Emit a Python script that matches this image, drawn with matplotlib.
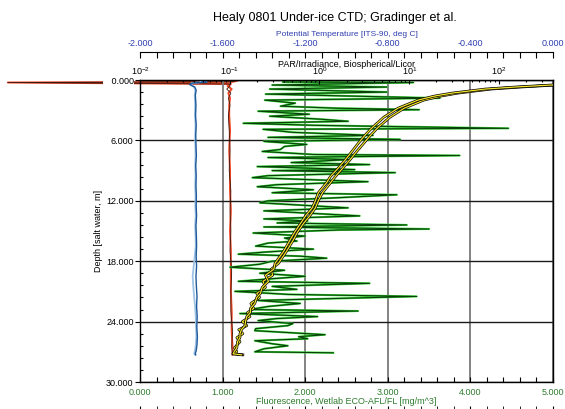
import numpy as np
import matplotlib
matplotlib.use('Agg')
import matplotlib.pyplot as plt
import matplotlib.ticker as mticker
import matplotlib.patheffects as pe

plt.rcParams['font.family'] = ['Liberation Sans', 'DejaVu Sans']
plt.rcParams['mathtext.fontset'] = 'custom'
plt.rcParams['mathtext.rm'] = 'Liberation Sans'
plt.rcParams['mathtext.it'] = 'Liberation Sans'

# ---------------- text / ticks ----------------
title = "Healy 0801 Under-ice CTD; Gradinger et al."
depth_ticks = [0, 6, 12, 18, 24, 30]
depth_labels = ['   0.000', '6.000', '12.000', '18.000', '24.000', '30.000']
fl_ticks = [0, 1, 2, 3, 4, 5]
temp_ticks = [-2.0, -1.6, -1.2, -0.8, -0.4, 0.0]
par_ticks = [0.01, 0.1, 1, 10, 100]

# ---------------- data ----------------
fl_depth = [0.20, 0.25, 0.50, 0.70, 0.90, 1.20, 1.40, 1.80, 2.00, 2.30,
            2.60, 2.80, 2.95, 3.10, 3.40, 3.60, 3.90, 4.10, 4.30, 4.50,
            4.80, 4.90, 5.20, 5.50, 5.70, 5.90, 6.10, 6.40, 6.60, 6.90,
            7.10, 7.40, 7.50, 7.70, 7.90, 8.20, 8.40, 8.60, 8.90, 9.00,
            9.20, 9.50, 9.70, 10.10, 10.40, 10.60, 10.90, 11.20, 11.40, 11.70,
            12.00, 12.20, 12.50, 12.70, 13.00, 13.30, 13.50, 13.80, 14.00, 14.20,
            14.40, 14.60, 14.80, 14.90, 15.20, 15.50, 15.70, 16.00, 16.20, 16.50,
            16.80, 17.10, 17.30, 17.50, 17.70, 18.00, 18.30, 18.60, 18.90, 19.20,
            19.50, 19.80, 20.00, 20.20, 20.50, 20.80, 21.00, 21.30, 21.50, 21.90,
            22.20, 22.50, 22.80, 22.95, 23.20, 23.50, 23.70, 23.90, 24.20, 24.40,
            24.70, 24.90, 25.30, 25.50, 25.70, 25.90, 26.20, 26.40, 26.70, 27.00,
            27.10]
fl_val = [1.73, 3.31, 1.60, 2.99, 1.57, 2.99, 1.52, 3.63, 1.51, 1.88,
          1.70, 2.38, 3.38, 1.43, 2.05, 1.57, 2.20, 2.52, 1.25, 2.10,
          4.46, 1.49, 1.85, 2.82, 1.55, 3.15, 1.50, 2.02, 1.75, 1.70,
          1.48, 2.10, 3.87, 1.55, 2.54, 1.83, 2.78, 1.42, 2.60, 1.60,
          3.09, 1.55, 1.36, 2.76, 1.65, 1.42, 2.10, 1.60, 3.11, 2.38,
          1.55, 1.45, 2.10, 2.52, 1.50, 2.20, 2.66, 1.50, 2.03, 1.66,
          3.23, 1.50, 3.50, 2.40, 1.37, 2.00, 1.75, 1.90, 1.55, 1.40,
          2.10, 1.50, 1.19, 1.94, 2.26, 1.60, 1.45, 1.09, 1.75, 1.45,
          2.00, 1.50, 1.19, 2.78, 1.60, 1.90, 1.15, 1.80, 3.35, 1.43,
          1.94, 1.55, 1.33, 2.64, 1.21, 2.15, 1.65, 1.43, 1.85, 1.79,
          1.40, 1.39, 2.24, 1.92, 2.03, 1.39, 1.60, 1.79, 1.50, 1.39,
          2.34]

par_depth = [0.3, 0.5, 0.7, 0.9, 1.3, 1.6, 2.0, 2.8, 3.7, 4.7,
             5.5, 6.3, 7.1, 7.9, 8.8, 9.6, 10.2, 11.2, 12.0, 12.7,
             13.5, 14.2, 15.1, 15.9, 17.0, 18.2, 18.8, 19.4, 20.0, 20.6,
             21.2, 21.6, 22.2, 22.7, 23.1, 23.5, 24.0, 24.4, 24.8, 25.2,
             25.6, 26.0, 26.6, 27.0, 27.2, 27.3]
par_down = [700, 380, 150, 70, 30, 19, 12.5, 7.5, 5.2, 3.9,
            3.2, 2.7, 2.3, 1.95, 1.6, 1.32, 1.2, 0.97, 0.90, 0.83,
            0.70, 0.62, 0.53, 0.47, 0.40, 0.32, 0.31, 0.25, 0.27, 0.23,
            0.22, 0.20, 0.19, 0.17, 0.17, 0.155, 0.15, 0.148, 0.135, 0.13,
            0.13, 0.122, 0.12, 0.112, 0.109, 0.135]
par_up = [700, 430, 175, 82, 35, 22.5, 14.5, 8.8, 6.1, 4.5,
          3.7, 3.1, 2.6, 2.2, 1.8, 1.5, 1.33, 1.08, 0.97, 0.90,
          0.78, 0.67, 0.57, 0.51, 0.43, 0.35, 0.29, 0.30, 0.235, 0.25,
          0.20, 0.215, 0.172, 0.185, 0.158, 0.168, 0.138, 0.155, 0.126, 0.14,
          0.12, 0.13, 0.113, 0.12, 0.108, 0.14]

temp_depth = [0.10, 0.20, 0.30, 0.45, 0.70, 1.0, 1.5, 2.5, 3.5, 4.5,
              5.5, 6.5, 7.5, 8.5, 9.5, 10.5, 11.5, 12.5, 13.5, 14.5,
              15.5, 16.5, 17.5, 18.5, 19.5, 20.5, 21.5, 22.5, 23.5, 24.5,
              25.5, 26.3, 26.9, 27.2, 27.3]
temp_dark = [-1.700, -1.675, -1.745, -1.760, -1.735, -1.728, -1.732, -1.729, -1.731, -1.728,
             -1.730, -1.729, -1.727, -1.730, -1.728, -1.729, -1.727, -1.728, -1.726, -1.729,
             -1.727, -1.726, -1.728, -1.726, -1.729, -1.727, -1.724, -1.726, -1.723, -1.725,
             -1.722, -1.724, -1.728, -1.733, -1.730]
temp_light = [-1.705, -1.690, -1.750, -1.752, -1.738, -1.732, -1.735, -1.733, -1.734, -1.731,
              -1.733, -1.732, -1.731, -1.733, -1.731, -1.733, -1.731, -1.732, -1.730, -1.733,
              -1.731, -1.730, -1.735, -1.740, -1.745, -1.742, -1.738, -1.733, -1.730, -1.729,
              -1.727, -1.730, -1.734, -1.737, -1.733]

sal_depth = [0.10, 0.18, 0.25, 0.40, 0.6, 0.9, 1.3, 1.8, 2.5, 3.5,
             5.0, 7.0, 9.0, 11.0, 13.0, 15.0, 17.0, 19.0, 21.0, 23.0,
             25.0, 26.5, 27.3]
sal_red = [31.17, 31.12, 28.40, 31.10, 31.06, 31.11, 31.07, 31.09, 31.08, 31.08,
           31.09, 31.08, 31.09, 31.09, 31.10, 31.09, 31.10, 31.10, 31.10, 31.11,
           31.11, 31.12, 31.12]
sal_black = [31.15, 31.10, 28.40, 31.08, 31.09, 31.05, 31.10, 31.07, 31.09, 31.07,
             31.08, 31.09, 31.08, 31.10, 31.09, 31.10, 31.09, 31.11, 31.10, 31.10,
             31.12, 31.11, 31.12]

# ---------------- layout ----------------
W, H = 565, 409
fig = plt.figure(figsize=(W / 100, H / 100), dpi=100)
fig.patch.set_facecolor('white')
L, R, T, B = 140, 553, 80, 382
rect = [L / W, 1 - B / H, (R - L) / W, (B - T) / H]
PX = 0.72  # points per pixel

BLUE = '#2f3fb0'
GREEN = '#2e7d2e'
FS = 6.5

ax = fig.add_axes(rect)
axS = fig.add_axes(rect, sharey=ax)
axS.set_zorder(0)
ax.set_zorder(1)
ax.patch.set_visible(False)

# host: fluorescence / depth
ax.set_xlim(0, 5)
ax.set_ylim(30, 0)
ax.set_xticks(fl_ticks)
ax.xaxis.set_major_formatter(mticker.FormatStrFormatter('%.3f'))
ax.xaxis.set_minor_locator(mticker.MultipleLocator(0.2))
ax.tick_params(axis='x', which='both', direction='in', length=5 * PX, width=0.8,
               labelsize=FS, labelcolor=GREEN, pad=4, top=False)
ax.set_yticks(depth_ticks)
ax.set_yticklabels(depth_labels)
ax.yaxis.set_minor_locator(mticker.MultipleLocator(1.2))
ax.tick_params(axis='y', which='major', direction='out', length=5 * PX, width=0.8,
               labelsize=FS, pad=1, right=False)
ax.tick_params(axis='y', which='minor', direction='in', length=3 * PX, width=0.8, right=False)
for lab in ax.get_yticklabels():
    lab.set_bbox(dict(facecolor='white', edgecolor='none', pad=0.5))
ax.grid(axis='x', which='major', color='#7a7a7a', lw=1.3)
ax.grid(axis='y', which='major', color='#1a1a1a', lw=1.0)
for s in ax.spines.values():
    s.set_linewidth(1.0)
ax.set_xlabel('Fluorescence, Wetlab ECO-AFL/FL [mg/m^3]', color=GREEN, fontsize=FS)
ax.xaxis.set_label_coords(0.5, -(397 - B) / (B - T))
ax.set_ylabel('Depth [salt water, m]', fontsize=FS)
ax.yaxis.set_label_coords(-(L - 103) / (R - L), 0.5)

ax.plot(fl_val, fl_depth, color='#3ad83a', lw=1.5)
ax.plot(fl_val, fl_depth, color='#0a3f0a', lw=0.8)

# salinity axis (below, outside the figure)
axS.set_xlim(30, 35)
axS.xaxis.set_major_locator(mticker.MultipleLocator(1))
axS.xaxis.set_minor_locator(mticker.MultipleLocator(0.2))
axS.spines['bottom'].set_position(('outward', 28 * PX))
for k in ['top', 'left', 'right']:
    axS.spines[k].set_visible(False)
axS.tick_params(axis='x', which='both', direction='in', length=4 * PX,
                labelbottom=False)
axS.tick_params(axis='y', which='both', left=False, labelleft=False)
axS.plot(sal_red, sal_depth, color='#ee4422', lw=1.4, clip_on=False)
axS.plot(sal_black, sal_depth, color='#3a1a10', lw=0.6, clip_on=False)

# temperature axis (top, offset)
axT = ax.twiny()
axT.set_zorder(2)
axT.set_xlim(-2.0, 0.0)
axT.set_xticks(temp_ticks)
axT.xaxis.set_major_formatter(mticker.FormatStrFormatter('%.3f'))
axT.xaxis.set_minor_locator(mticker.MultipleLocator(0.08))
axT.spines['top'].set_position(('outward', 28 * PX))
for k in ['bottom', 'left', 'right']:
    axT.spines[k].set_visible(False)
axT.tick_params(axis='x', which='both', direction='in', length=6 * PX, width=0.8,
                labelsize=FS, labelcolor=BLUE, pad=3)
axT.set_xlabel('Potential Temperature [ITS-90, deg C]', color=BLUE, fontsize=6)
axT.xaxis.set_label_coords(0.5, (B - 36) / (B - T))
axT.plot(temp_light, temp_depth, color='#9ec3e6', lw=1.3)
axT.plot(temp_dark, temp_depth, color='#1f5a9a', lw=1.0)

# PAR axis (top of frame, log)
axP = ax.twiny()
axP.set_zorder(3)
axP.set_xscale('log')
axP.set_xlim(0.01, 400)
axP.set_xticks(par_ticks)
axP.xaxis.set_major_formatter(mticker.LogFormatterSciNotation())
axP.xaxis.set_minor_locator(mticker.LogLocator(base=10, subs=np.arange(2, 10)))
axP.xaxis.set_minor_formatter(mticker.NullFormatter())
for k in ['bottom', 'left', 'right']:
    axP.spines[k].set_visible(False)
axP.tick_params(axis='x', which='major', direction='in', length=4 * PX, width=0.8,
                labelsize=FS, pad=2)
axP.tick_params(axis='x', which='minor', direction='in', length=2.5 * PX, width=0.8)
axP.set_xlabel('PAR/Irradiance, Biospherical/Licor', fontsize=FS)
axP.xaxis.set_label_coords(0.5, (B - 67) / (B - T))
stroke = [pe.Stroke(linewidth=1.9, foreground='black'), pe.Normal()]
axP.plot(par_up, par_depth, color='#f5e52a', lw=0.9, path_effects=stroke)
axP.plot(par_down, par_depth, color='#f5e52a', lw=0.9, path_effects=stroke)

fig.text(335 / W, 1 - 18 / H, title, ha='center', va='center', fontsize=9)

fig.savefig('out.png', dpi=100)
